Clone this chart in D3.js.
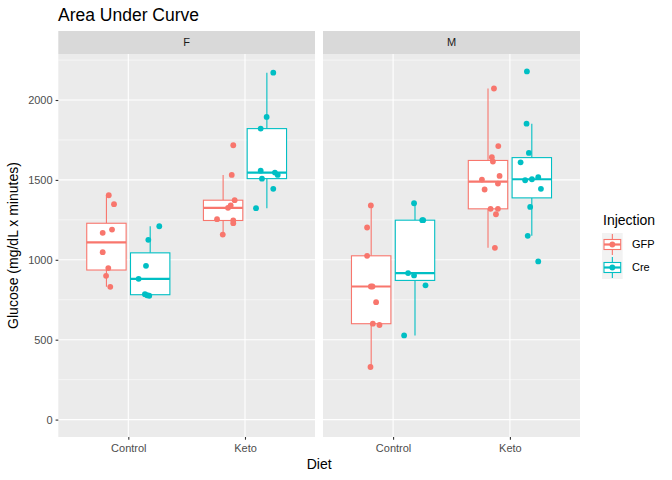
<!DOCTYPE html>
<html>
<head>
<meta charset="utf-8">
<script src="https://cdn.jsdelivr.net/npm/d3@7"></script>
<style>
  body { margin: 0; background: #fff; }
  svg { font-family: "Liberation Sans", Arial, sans-serif; display: block; }
</style>
</head>
<body>
<svg id="chart" width="672" height="480"></svg>
<script>
// categories
const sexes = ["F", "M"]
const diets = ["Control", "Keto"]
const injections = ["GFP", "Cre"]
const yTicks = [0, 500, 1000, 1500, 2000]
const yMinor = [250, 750, 1250, 1750, 2250]

// glucose AUC values, with their jitter (in category units)
const fControlGFP = [1404, 1348, 1189, 1169, 1048, 948, 900, 831]
const fControlGFPJit = [0.02, 0.065, 0.048, -0.032, -0.032, 0.016, -0.003, 0.033]
const fControlCre = [1210, 1125, 962, 881, 785, 778, 775]
const fControlCreJit = [0.078, -0.016, -0.036, -0.099, -0.045, -0.027, -0.008]
const fKetoGFP = [1717, 1531, 1373, 1340, 1325, 1254, 1246, 1229, 1158]
const fKetoGFPJit = [0.087, 0.074, 0.099, 0.065, 0.042, -0.052, 0.087, 0.087, -0.003]
const fKetoCre = [2171, 1894, 1821, 1558, 1546, 1531, 1508, 1444, 1323]
const fKetoCreJit = [0.055, -0.002, -0.053, -0.053, 0.069, 0.093, -0.042, 0.055, -0.093]
const mControlGFP = [1340, 1202, 1025, 833, 833, 735, 600, 592, 329]
const mControlGFPJit = [-0.003, -0.035, -0.035, -0.003, 0.011, 0.042, 0.014, 0.071, -0.006]
const mControlCre = [1354, 1248, 1248, 917, 902, 840, 527]
const mControlCreJit = [-0.008, 0.07, 0.062, -0.059, -0.008, 0.09, -0.093]
const mKetoGFP = [2072, 1712, 1642, 1615, 1525, 1502, 1477, 1440, 1319, 1319, 1285, 1075]
const mKetoGFPJit = [0.051, 0.088, 0.033, 0.042, 0.099, -0.052, 0.085, -0.029, 0.022, 0.085, 0.068, 0.059]
const mKetoCre = [2179, 1852, 1669, 1610, 1517, 1504, 1498, 1444, 1331, 1150, 990]
const mKetoCreJit = [-0.042, -0.045, -0.025, -0.096, 0.055, 0.001, -0.057, 0.078, -0.014, -0.035, 0.055]

const groups = [
  ["F", "Control", "GFP", fControlGFP, fControlGFPJit],
  ["F", "Control", "Cre", fControlCre, fControlCreJit],
  ["F", "Keto", "GFP", fKetoGFP, fKetoGFPJit],
  ["F", "Keto", "Cre", fKetoCre, fKetoCreJit],
  ["M", "Control", "GFP", mControlGFP, mControlGFPJit],
  ["M", "Control", "Cre", mControlCre, mControlCreJit],
  ["M", "Keto", "GFP", mKetoGFP, mKetoGFPJit],
  ["M", "Keto", "Cre", mKetoCre, mKetoCreJit]
].map(([sex, diet, inj, vals, jit]) => {
  const s = vals.slice().sort(d3.ascending)
  const q1 = d3.quantile(s, 0.25), med = d3.quantile(s, 0.5), q3 = d3.quantile(s, 0.75)
  const iqr = q3 - q1
  const lo = d3.min(s.filter(v => v >= q1 - 1.5 * iqr))
  const hi = d3.max(s.filter(v => v <= q3 + 1.5 * iqr))
  return { sex, diet, inj, q1, med, q3, lo, hi,
    points: vals.map((v, i) => ({ v, j: jit[i] })) }
})

const colour = d3.scaleOrdinal().domain(injections).range(["#F8766D", "#00BFC4"])

const panelTop = 54, panelBottom = 437, stripTop = 31
const panelX = [[58.3, 315], [323, 580]]

const allVals = groups.flatMap(g => g.points.map(p => p.v))
const yLo = Math.min(0, d3.min(allVals)), yHi = d3.max(allVals)
const pad = (yHi - yLo) * 0.05
const y = d3.scaleLinear().domain([yLo - pad, yHi + pad]).range([panelBottom, panelTop])

const dodge = d3.scalePoint().domain(injections).range([-0.1875, 0.1875])
const boxW = 0.3375

const svg = d3.select("#chart")

svg.append("text")
  .attr("x", 58).attr("y", 21)
  .attr("font-size", 17.5).attr("fill", "#000")
  .text("Area Under Curve")

sexes.forEach((sex, si) => {
  const [x0, x1] = panelX[si]
  const x = d3.scalePoint().domain(diets).range([x0, x1]).padding(0.6)
  const step = x.step()
  const g = svg.append("g")

  g.append("rect")
    .attr("x", x0).attr("y", stripTop)
    .attr("width", x1 - x0).attr("height", panelTop - stripTop)
    .attr("fill", "#D9D9D9")
  g.append("text")
    .attr("x", (x0 + x1) / 2).attr("y", (stripTop + panelTop) / 2)
    .attr("dy", "0.35em").attr("text-anchor", "middle")
    .attr("font-size", 11).attr("fill", "#1A1A1A")
    .text(sex)

  g.append("rect")
    .attr("x", x0).attr("y", panelTop)
    .attr("width", x1 - x0).attr("height", panelBottom - panelTop)
    .attr("fill", "#EBEBEB")

  g.selectAll(".minor").data(yMinor.filter(v => y(v) > panelTop)).join("line")
    .attr("x1", x0).attr("x2", x1)
    .attr("y1", d => y(d)).attr("y2", d => y(d))
    .attr("stroke", "#fff").attr("stroke-width", 0.55)
  g.selectAll(".major").data(yTicks).join("line")
    .attr("x1", x0).attr("x2", x1)
    .attr("y1", d => y(d)).attr("y2", d => y(d))
    .attr("stroke", "#fff").attr("stroke-width", 1.1)
  g.selectAll(".vmajor").data(diets).join("line")
    .attr("x1", d => x(d)).attr("x2", d => x(d))
    .attr("y1", panelTop).attr("y2", panelBottom)
    .attr("stroke", "#fff").attr("stroke-width", 1.1)

  // x axis
  const xAxis = g.append("g")
    .attr("transform", `translate(0,${panelBottom})`)
    .call(d3.axisBottom(x).tickSize(2.7).tickPadding(4.5))
  xAxis.select(".domain").remove()
  xAxis.selectAll("line").attr("stroke", "#333333").attr("stroke-width", 1.1)
  xAxis.selectAll("text").attr("font-size", 11).attr("fill", "#4D4D4D")
    .attr("font-family", "Liberation Sans, Arial, sans-serif")

  if (si === 0) {
    const yAxis = g.append("g")
      .attr("transform", `translate(${x0},0)`)
      .call(d3.axisLeft(y).tickValues(yTicks).tickFormat(d3.format("d")).tickSize(2.7).tickPadding(3))
    yAxis.select(".domain").remove()
    yAxis.selectAll("line").attr("stroke", "#333333").attr("stroke-width", 1.1)
    yAxis.selectAll("text").attr("font-size", 11).attr("fill", "#4D4D4D")
      .attr("font-family", "Liberation Sans, Arial, sans-serif")
  }

  const data = groups.filter(d => d.sex === sex)
  const cx = d => x(d.diet) + dodge(d.inj) * step

  const box = g.selectAll(".box").data(data).join("g")
    .attr("stroke", d => colour(d.inj))
  box.append("line")
    .attr("x1", cx).attr("x2", cx)
    .attr("y1", d => y(d.hi)).attr("y2", d => y(d.q3))
    .attr("stroke-width", 1.1)
  box.append("line")
    .attr("x1", cx).attr("x2", cx)
    .attr("y1", d => y(d.q1)).attr("y2", d => y(d.lo))
    .attr("stroke-width", 1.1)
  box.append("rect")
    .attr("x", d => cx(d) - boxW * step / 2)
    .attr("width", boxW * step)
    .attr("y", d => y(d.q3))
    .attr("height", d => y(d.q1) - y(d.q3))
    .attr("fill", "#fff").attr("stroke-width", 1.1)
  box.append("line")
    .attr("x1", d => cx(d) - boxW * step / 2).attr("x2", d => cx(d) + boxW * step / 2)
    .attr("y1", d => y(d.med)).attr("y2", d => y(d.med))
    .attr("stroke-width", 2.2)

  g.selectAll(".pt").data(data.flatMap(d => d.points.map(p => ({ ...p, d }))))
    .join("circle")
    .attr("cx", p => cx(p.d) + p.j * step)
    .attr("cy", p => y(p.v))
    .attr("r", 2.9)
    .attr("fill", p => colour(p.d.inj))
})

// axis titles
svg.append("text")
  .attr("x", (panelX[0][0] + panelX[1][1]) / 2).attr("y", 469)
  .attr("text-anchor", "middle").attr("font-size", 14).attr("fill", "#000")
  .text("Diet")
svg.append("text")
  .attr("transform", `translate(18,${(panelTop + panelBottom) / 2}) rotate(-90)`)
  .attr("text-anchor", "middle").attr("font-size", 14).attr("fill", "#000")
  .text("Glucose (mg/dL x minutes)")

// legend
const legend = svg.append("g").attr("transform", "translate(602,0)")
legend.append("text")
  .attr("x", 1).attr("y", 225)
  .attr("font-size", 14).attr("fill", "#000")
  .text("Injection")
const key = legend.selectAll(".key").data(injections).join("g")
  .attr("transform", (d, i) => `translate(0,${233 + i * 23})`)
key.append("rect")
  .attr("width", 20.7).attr("height", 23).attr("fill", "#F2F2F2")
key.append("line")
  .attr("x1", 10.35).attr("x2", 10.35).attr("y1", 1).attr("y2", 22)
  .attr("stroke", d => colour(d)).attr("stroke-width", 1.1)
key.append("rect")
  .attr("x", 2).attr("y", 6.5).attr("width", 16.7).attr("height", 10)
  .attr("fill", "#fff").attr("stroke", d => colour(d)).attr("stroke-width", 1.1)
key.append("line")
  .attr("x1", 2).attr("x2", 18.7).attr("y1", 11.5).attr("y2", 11.5)
  .attr("stroke", d => colour(d)).attr("stroke-width", 2.2)
key.append("circle")
  .attr("cx", 10.35).attr("cy", 11.5).attr("r", 2.9)
  .attr("fill", d => colour(d))
key.append("text")
  .attr("x", 30).attr("y", 11.5).attr("dy", "0.35em")
  .attr("font-size", 11).attr("fill", "#000")
  .text(d => d)
</script>
</body>
</html>
